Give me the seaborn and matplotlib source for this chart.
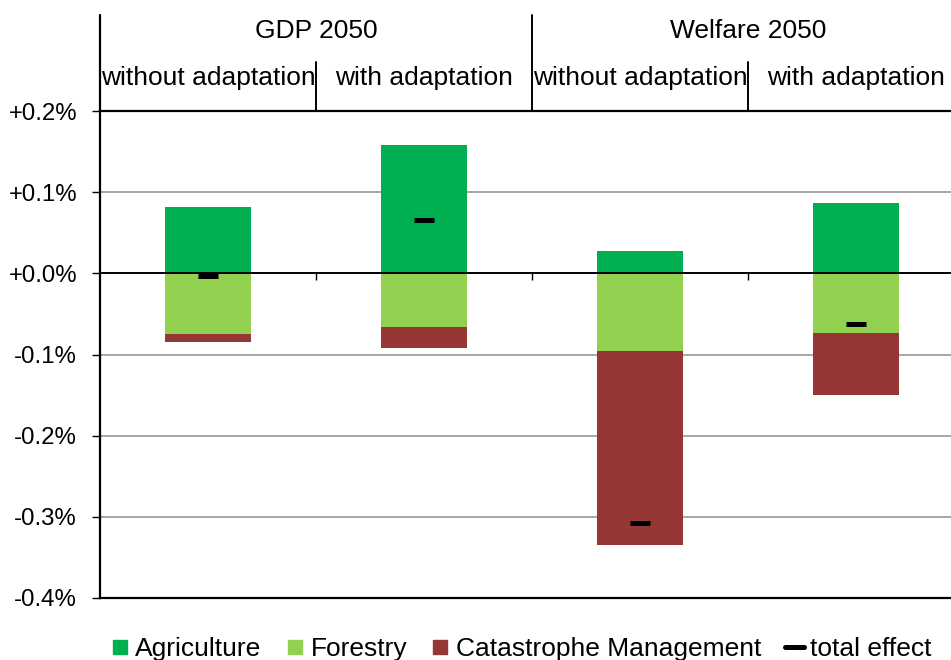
import matplotlib
matplotlib.use("Agg")
import matplotlib.pyplot as plt
from matplotlib.lines import Line2D
import seaborn as sns
import pandas as pd

# Scenario columns (left to right)
scenarios = ["GDP without", "GDP with", "Welfare without", "Welfare with"]
group_titles = ["GDP 2050", "Welfare 2050"]
sub_titles = ["without adaptation", "with adaptation",
              "without adaptation", "with adaptation"]

# Contributions in percent
agriculture = [0.0815, 0.158, 0.027, 0.087]
forestry = [-0.075, -0.066, -0.096, -0.073]
catastrophe = [-0.010, -0.026, -0.239, -0.077]
total_effect = [-0.0035, 0.066, -0.308, -0.063]

ytick_values = [0.2, 0.1, 0.0, -0.1, -0.2, -0.3, -0.4]
ytick_labels = ["+0.2%", "+0.1%", "+0.0%", "-0.1%", "-0.2%", "-0.3%", "-0.4%"]

series_names = ["Agriculture", "Forestry", "Catastrophe Management", "total effect"]
c_agri = "#00B050"
c_forest = "#92D050"
c_cat = "#953735"

sns.set_theme(style="white")
plt.rcParams["font.family"] = ["Liberation Sans", "DejaVu Sans"]
plt.rcParams["text.color"] = "black"
plt.rcParams["axes.labelcolor"] = "black"

df = pd.DataFrame({
    "scenario": scenarios,
    "agriculture": agriculture,
    "forestry": forestry,
    "catastrophe": catastrophe,
    "total": total_effect,
})
# negative parts stack downward: forestry first, catastrophe below it
df["neg_stack"] = df["forestry"] + df["catastrophe"]

W, H = 951, 660
fig = plt.figure(figsize=(W / 100, H / 100), dpi=100)
ax = fig.add_axes([100 / W, (H - 598) / H, 864 / W, 487 / H])

common = dict(x="scenario", order=scenarios, width=0.4, saturation=1,
              ax=ax, zorder=2, linewidth=0)
sns.barplot(data=df, y="neg_stack", color=c_cat, **common)
sns.barplot(data=df, y="forestry", color=c_forest, **common)
sns.barplot(data=df, y="agriculture", color=c_agri, **common)

sns.pointplot(data=df, x="scenario", y="total", order=scenarios, color="black",
              markers="_", linestyles="none", errorbar=None, ax=ax,
              markersize=14.5, markeredgewidth=3.6, zorder=5)

ax.set_xlim(-0.5, 3.5)
ax.set_ylim(-0.4, 0.2)
ax.set_xlabel("")
ax.set_ylabel("")
ax.set_xticks([])
ax.set_yticks(ytick_values)
ax.set_yticklabels(ytick_labels)
ax.tick_params(axis="y", direction="out", length=5.5, width=1.0, color="black",
               pad=11, labelsize=17.3, labelcolor="black", left=True)

# grid lines
for v in ytick_values[1:-1]:
    if v == 0:
        continue
    ax.axhline(v, color="#a6a6a6", lw=1.4, zorder=1)
ax.axhline(0, color="black", lw=1.4, zorder=4)
ax.vlines([0.5, 1.5, 2.5], -0.0085, 0, color="black", lw=1.0, zorder=4)

for s in ["top", "bottom", "left"]:
    ax.spines[s].set_visible(True)
    ax.spines[s].set_color("black")
    ax.spines[s].set_linewidth(1.6)
ax.spines["right"].set_visible(False)

# header above the plot
trans = ax.get_xaxis_transform()
def fig_y_to_axes(py):
    return ((H - py) / H - (H - 598) / H) / (487 / H)

y_top = fig_y_to_axes(15)
y_mid = fig_y_to_axes(62)
ax.plot([-0.5, -0.5], [1, y_top], color="black", lw=1.6, transform=trans, clip_on=False)
ax.plot([1.5, 1.5], [1, y_top], color="black", lw=1.4, transform=trans, clip_on=False)
ax.plot([0.5, 0.5], [1, y_mid], color="black", lw=1.4, transform=trans, clip_on=False)
ax.plot([2.5, 2.5], [1, y_mid], color="black", lw=1.4, transform=trans, clip_on=False)

for i, t in enumerate(group_titles):
    ax.text(0.5 + 2 * i, fig_y_to_axes(31), t, transform=trans, ha="center",
            va="center", fontsize=19, color="black")
for i, t in enumerate(sub_titles):
    ax.text(i, fig_y_to_axes(78), t, transform=trans, ha="center",
            va="center", fontsize=19, color="black")

handles = [
    Line2D([], [], marker="s", ls="none", color=c_agri, markersize=10.5),
    Line2D([], [], marker="s", ls="none", color=c_forest, markersize=10.5),
    Line2D([], [], marker="s", ls="none", color=c_cat, markersize=10.5),
    Line2D([], [], color="black", lw=3.6),
]
leg = fig.legend(handles, series_names, loc="center", bbox_to_anchor=(521 / W, 11 / H),
                 ncol=4, frameon=False, fontsize=19, handlelength=0.7,
                 handletextpad=0.25, columnspacing=0.9, borderpad=0, borderaxespad=0)
for txt in leg.get_texts():
    txt.set_color("black")

fig.savefig("out.png", dpi=100)
